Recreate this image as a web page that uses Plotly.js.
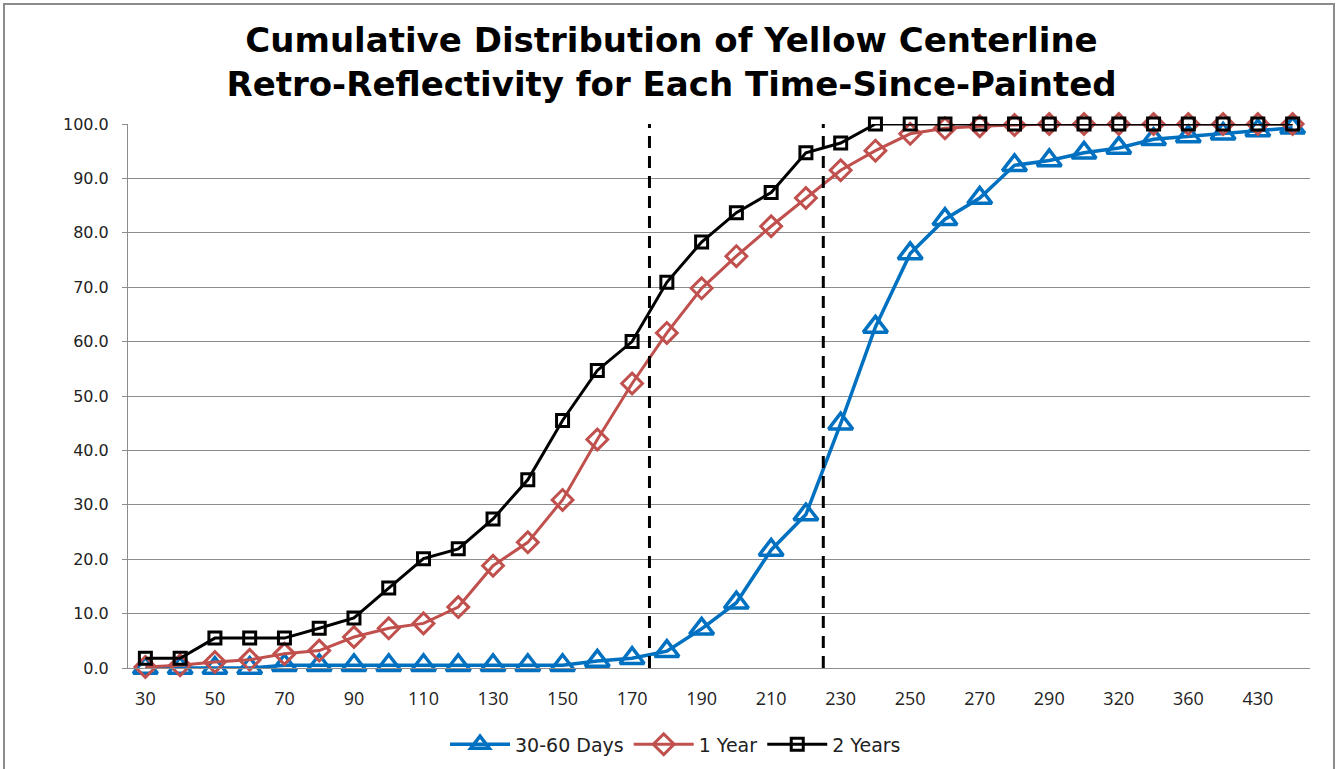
<!DOCTYPE html>
<html>
<head>
<meta charset="utf-8">
<script src="https://cdn.plot.ly/plotly-3.0.1.min.js"></script>
<style>
  html, body { margin: 0; padding: 0; background: #fff; }
  #wrap { position: relative; width: 1343px; height: 769px; overflow: hidden; }
  #chart { position: absolute; left: 0; top: 0; width: 1343px; height: 769px; }
  #frame { position: absolute; left: 3px; top: 3px; width: 1328px; height: 790px;
           border: 2px solid #8c8c8c; pointer-events: none; }
</style>
</head>
<body>
<div id="wrap">
  <div id="chart"></div>
  <div id="frame"></div>
</div>
<script>
// Retro-reflectivity bins (categories)
const categories = ["30","40","50","60","70","80","90","100","110","120","130","140","150","160","170",
  "180","190","200","210","220","230","240","250","260","270","280","290","300","320","340","360","400","430","460"];
// Labels shown on the x axis (every other category)
const tickLabels = ["30","50","70","90","110","130","150","170","190","210","230","250","270","290","320","360","430"];

const days3060 = [0.0,0.0,0.0,0.0,0.5,0.5,0.5,0.5,0.5,0.5,0.5,0.5,0.5,1.3,1.8,
  3.1,7.2,12.0,21.7,28.2,44.9,62.7,76.2,82.5,86.4,92.4,93.3,94.7,95.6,97.2,97.7,98.2,98.8,99.3];
const year1 = [0.2,0.5,1.1,1.5,2.6,3.2,5.7,7.3,8.2,11.2,18.8,23.1,30.9,42.0,52.3,
  61.6,69.8,75.7,81.2,86.4,91.5,95.1,98.2,99.2,99.6,99.8,100,100,100,100,100,100,100,100];
const years2 = [1.8,1.8,5.5,5.5,5.5,7.3,9.2,14.7,20.1,21.9,27.4,34.6,45.5,54.7,60.0,
  70.9,78.3,83.7,87.4,94.7,96.5,100,100,100,100,100,100,100,100,100,100,100,100,100];

const seriesNames = ["30-60 Days", "1 Year", "2 Years"];
// Reference thresholds (retro-reflectivity values) drawn as dashed lines
const thresholds = [175, 225];

// Map a numeric value onto the category index scale by linear interpolation
function catPos(v) {
  const nums = categories.map(Number);
  for (let i = 0; i < nums.length - 1; i++) {
    if (v >= nums[i] && v <= nums[i + 1]) {
      return i + (v - nums[i]) / (nums[i + 1] - nums[i]);
    }
  }
  return 0;
}

const traces = [
  { x: categories, y: days3060, name: seriesNames[0], type: "scatter", mode: "lines+markers",
    cliponaxis: false,
    line: { color: "#0070C0", width: 3.5 },
    marker: { symbol: "triangle-up-open", size: 21, color: "#0070C0", line: { color: "#0070C0", width: 3.5 } } },
  { x: categories, y: year1, name: seriesNames[1], type: "scatter", mode: "lines+markers",
    cliponaxis: false,
    line: { color: "#C0504D", width: 3 },
    marker: { symbol: "diamond-open", size: 16, color: "#C0504D", line: { color: "#C0504D", width: 3 } } },
  { x: categories, y: years2, name: seriesNames[2], type: "scatter", mode: "lines+markers",
    cliponaxis: false,
    line: { color: "#000000", width: 3 },
    marker: { symbol: "square-open", size: 12, color: "#000000", line: { color: "#000000", width: 3 } } }
];

const shapes = thresholds.map(t => ({
  type: "line", xref: "x", yref: "y", x0: catPos(t), x1: catPos(t), y0: 0, y1: 100,
  line: { color: "#000", width: 3, dash: "12px,8px" }, layer: "above"
}));

const layout = {
  width: 1343, height: 769,
  margin: { l: 128, r: 33, t: 124, b: 101 },
  paper_bgcolor: "#fff", plot_bgcolor: "#fff",
  title: {
    text: "<b>Cumulative Distribution of Yellow Centerline<br>Retro-Reflectivity for Each Time-Since-Painted</b>",
    font: { family: "DejaVu Sans, sans-serif", size: 34, color: "#000" },
    x: 0.5, xanchor: "center", xref: "container", yref: "container", y: 0.932, yanchor: "middle",
    automargin: false
  },
  xaxis: {
    type: "category", categoryorder: "array", categoryarray: categories,
    range: [-0.5, categories.length - 0.5],
    tickmode: "array", tickvals: tickLabels, ticktext: tickLabels,
    showgrid: false, zeroline: false, automargin: false,
    showline: true, linecolor: "#8c8c8c", linewidth: 1,
    ticks: "", ticklabelstandoff: 14,
    tickfont: { family: "Open Sans, sans-serif", size: 18, color: "#222" }
  },
  yaxis: {
    range: [0, 100], dtick: 10, tickformat: ".1f", automargin: false,
    showgrid: true, gridcolor: "#8c8c8c", gridwidth: 1,
    zeroline: false, showline: true, linecolor: "#8c8c8c", linewidth: 1,
    ticks: "outside", ticklen: 5, tickcolor: "#8c8c8c", ticklabelstandoff: 10,
    tickfont: { family: "DejaVu Sans, sans-serif", size: 16, color: "#222" }
  },
  showlegend: true,
  legend: {
    orientation: "h", xref: "container", x: 0.503, xanchor: "center",
    yref: "container", y: 0.032, yanchor: "middle",
    font: { family: "DejaVu Sans, sans-serif", size: 19, color: "#222" },
    itemwidth: 60, bgcolor: "rgba(0,0,0,0)"
  },
  shapes: shapes
};

Plotly.newPlot("chart", traces, layout, { displayModeBar: false, staticPlot: true });
</script>
</body>
</html>
